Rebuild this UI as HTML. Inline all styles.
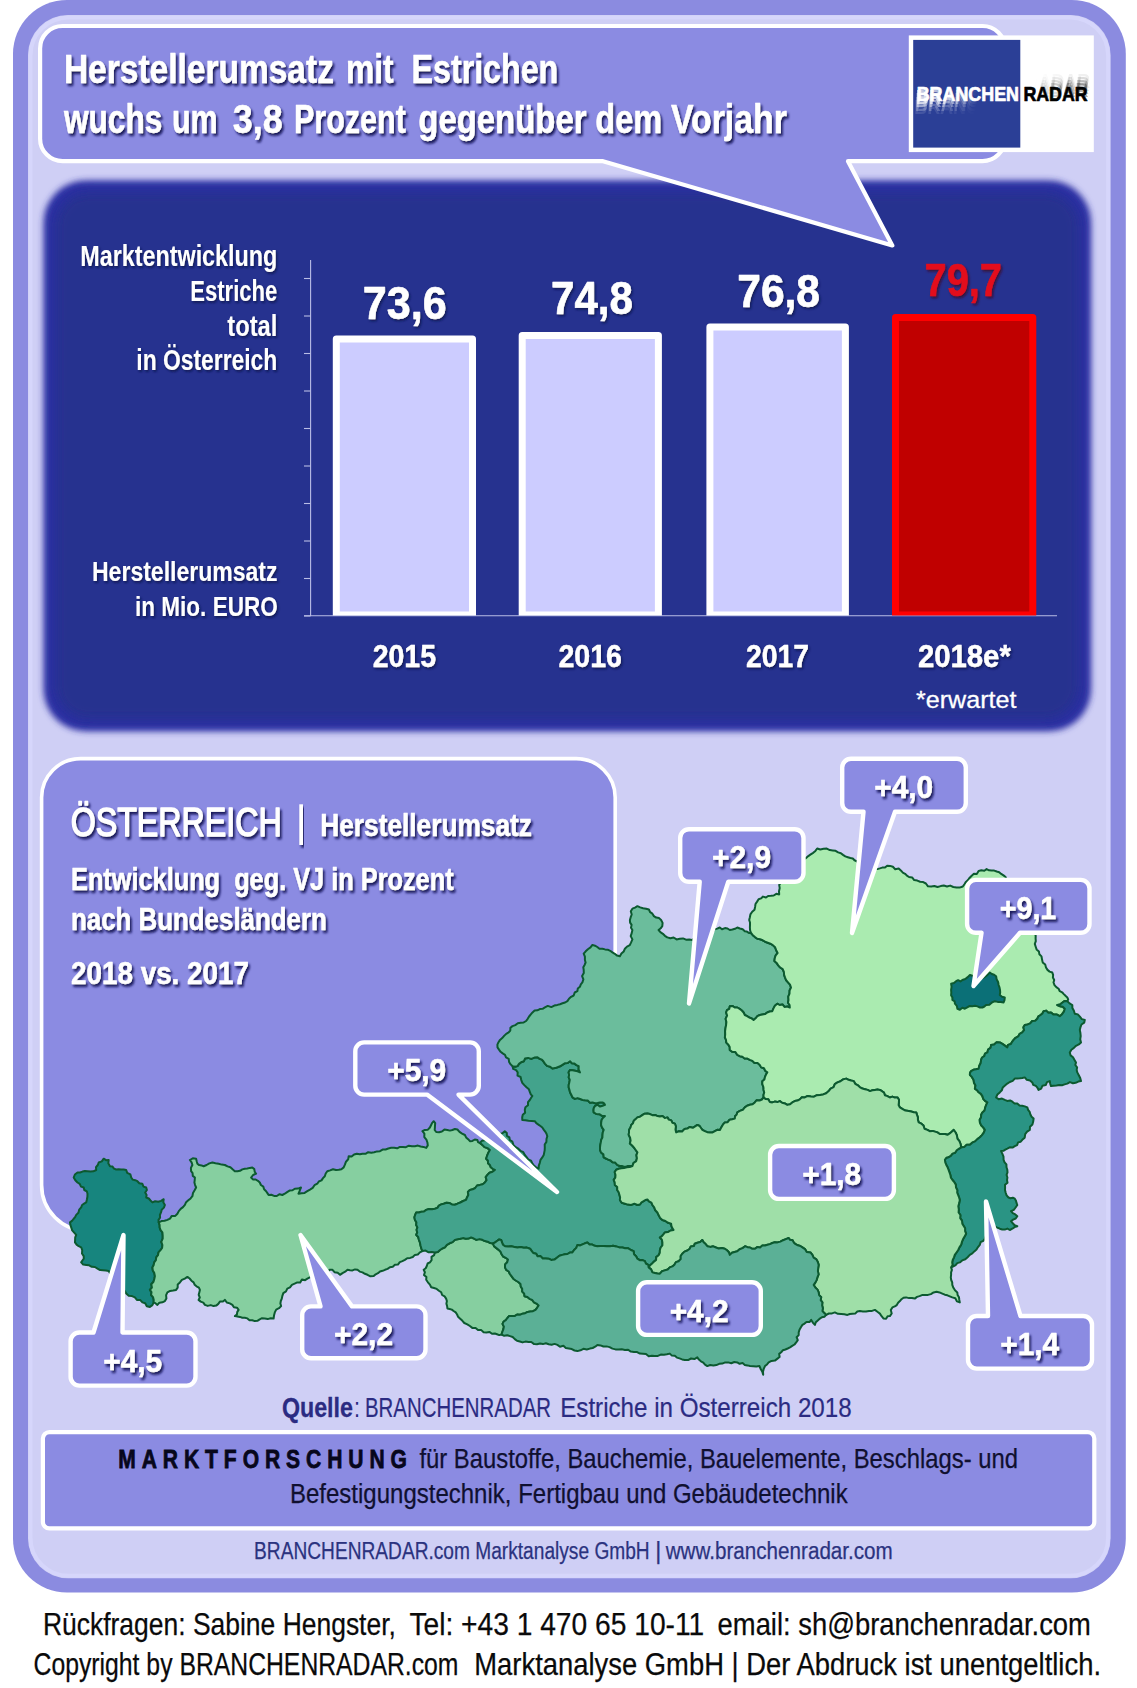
<!DOCTYPE html>
<html><head><meta charset="utf-8"><title>Estriche</title>
<style>
html,body{margin:0;padding:0;background:#fff;}
body{width:1137px;height:1688px;overflow:hidden;}
svg{display:block;font-family:"Liberation Sans", sans-serif;}
</style></head><body>
<svg width="1137" height="1688" viewBox="0 0 1137 1688">
<defs>
<filter id="blur" x="-5%" y="-5%" width="110%" height="110%"><feGaussianBlur stdDeviation="3.4"/></filter>
<filter id="blur2" x="-5%" y="-5%" width="110%" height="110%"><feGaussianBlur stdDeviation="6"/></filter>
<filter id="sh" x="-10%" y="-30%" width="120%" height="170%"><feDropShadow dx="1.8" dy="2.6" stdDeviation="0.9" flood-color="#10104e" flood-opacity="0.92"/></filter>
<filter id="sh2" x="-10%" y="-30%" width="120%" height="170%"><feDropShadow dx="1.3" dy="1.8" stdDeviation="0.8" flood-color="#0b1250" flood-opacity="0.9"/></filter>
<filter id="shr" x="-10%" y="-30%" width="120%" height="170%"><feDropShadow dx="1.5" dy="2" stdDeviation="1" flood-color="#3a0a30" flood-opacity="0.9"/></filter>
<linearGradient id="fadeW" x1="0" y1="0" x2="1" y2="0"><stop offset="0" stop-color="#fff" stop-opacity="1"/><stop offset="0.3" stop-color="#fff" stop-opacity="0.8"/><stop offset="0.6" stop-color="#fff" stop-opacity="0"/></linearGradient>
<linearGradient id="fadeK" x1="0" y1="0" x2="1" y2="0"><stop offset="0.15" stop-color="#000" stop-opacity="0"/><stop offset="0.6" stop-color="#000" stop-opacity="0.6"/><stop offset="1" stop-color="#000" stop-opacity="0.8"/></linearGradient>
<clipPath id="cb"><rect x="300" y="250" width="800" height="365.5"/></clipPath>
</defs>

<rect x="13" y="0" width="1112.8" height="1592.6" rx="54" fill="#8b8be0"/>

<rect x="28" y="15" width="1082.6" height="1563.3" rx="40" fill="#cfcff5"/>
<rect x="30.5" y="17.5" width="1077.6" height="1558.3" rx="38" fill="none" stroke="#d6d6fb" stroke-width="4"/>
<rect x="43.6" y="180.6" width="1047.4" height="550.6" rx="42" fill="#2a2fa3" filter="url(#blur)"/>
<rect x="55" y="192" width="1024.6" height="527.8" rx="34" fill="#25318f" filter="url(#blur2)"/>
<path d="M62.6,26 L982.5,26 A22.5,22.5 0 0 1 1005,48.5 L1005,138.7 A22.5,22.5 0 0 1 982.5,161.2 L848,161.2 L892.3,245.5 L603,161.2 L62.6,161.2 A22.5,22.5 0 0 1 40.1,138.7 L40.1,48.5 A22.5,22.5 0 0 1 62.6,26 Z" fill="#8b8be2" stroke="#fff" stroke-width="4.2" stroke-linejoin="round"/>
<g filter="url(#sh)">
<text x="63.9" y="83.4" font-size="40" font-weight="bold" fill="#fff" textLength="270" lengthAdjust="spacingAndGlyphs" stroke="#fff" stroke-width="0.5" stroke-linejoin="round"  xml:space="preserve">Herstellerumsatz</text>
<text x="346" y="83.4" font-size="40" font-weight="bold" fill="#fff" textLength="47.6" lengthAdjust="spacingAndGlyphs" stroke="#fff" stroke-width="0.5" stroke-linejoin="round"  xml:space="preserve">mit</text>
<text x="411.5" y="83.4" font-size="40" font-weight="bold" fill="#fff" textLength="146.8" lengthAdjust="spacingAndGlyphs" stroke="#fff" stroke-width="0.5" stroke-linejoin="round"  xml:space="preserve">Estrichen</text>
<text x="63.9" y="133.3" font-size="40" font-weight="bold" fill="#fff" textLength="98.5" lengthAdjust="spacingAndGlyphs" stroke="#fff" stroke-width="0.5" stroke-linejoin="round"  xml:space="preserve">wuchs</text>
<text x="171.9" y="133.3" font-size="40" font-weight="bold" fill="#fff" textLength="45.8" lengthAdjust="spacingAndGlyphs" stroke="#fff" stroke-width="0.5" stroke-linejoin="round"  xml:space="preserve">um</text>
<text x="232.8" y="133.3" font-size="40" font-weight="bold" fill="#fff" textLength="49.9" lengthAdjust="spacingAndGlyphs" stroke="#fff" stroke-width="0.5" stroke-linejoin="round"  xml:space="preserve">3,8</text>
<text x="294" y="133.3" font-size="40" font-weight="bold" fill="#fff" textLength="111.9" lengthAdjust="spacingAndGlyphs" stroke="#fff" stroke-width="0.5" stroke-linejoin="round"  xml:space="preserve">Prozent</text>
<text x="418.3" y="133.3" font-size="40" font-weight="bold" fill="#fff" textLength="168.2" lengthAdjust="spacingAndGlyphs" stroke="#fff" stroke-width="0.5" stroke-linejoin="round"  xml:space="preserve">gegenüber</text>
<text x="595.3" y="133.3" font-size="40" font-weight="bold" fill="#fff" textLength="66.8" lengthAdjust="spacingAndGlyphs" stroke="#fff" stroke-width="0.5" stroke-linejoin="round"  xml:space="preserve">dem</text>
<text x="670.9" y="133.3" font-size="40" font-weight="bold" fill="#fff" textLength="116.1" lengthAdjust="spacingAndGlyphs" stroke="#fff" stroke-width="0.5" stroke-linejoin="round"  xml:space="preserve">Vorjahr</text>
</g>
<rect x="908.8" y="35.4" width="185" height="116.7" fill="#fff"/>
<rect x="913.2" y="39.9" width="107.1" height="107.7" fill="#2b3f96"/>
<text x="916.1" y="104.2" font-size="20.5" font-weight="bold" fill="url(#fadeW)" textLength="102.3" lengthAdjust="spacingAndGlyphs" opacity="0.75" xml:space="preserve">BRANCHEN</text>
<text x="915.5" y="107.4" font-size="20.5" font-weight="bold" fill="url(#fadeW)" textLength="102.3" lengthAdjust="spacingAndGlyphs" opacity="0.5" xml:space="preserve">BRANCHEN</text>
<text x="914.9000000000001" y="110.6" font-size="20.5" font-weight="bold" fill="url(#fadeW)" textLength="102.3" lengthAdjust="spacingAndGlyphs" opacity="0.28" xml:space="preserve">BRANCHEN</text>
<text x="914.3000000000001" y="113.8" font-size="20.5" font-weight="bold" fill="url(#fadeW)" textLength="102.3" lengthAdjust="spacingAndGlyphs" opacity="0.12" xml:space="preserve">BRANCHEN</text>
<text x="1024.0" y="97.1" font-size="20.5" font-weight="bold" fill="url(#fadeK)" textLength="64.3" lengthAdjust="spacingAndGlyphs" opacity="0.42" xml:space="preserve">RADAR</text>
<text x="1024.6" y="93.89999999999999" font-size="20.5" font-weight="bold" fill="url(#fadeK)" textLength="64.3" lengthAdjust="spacingAndGlyphs" opacity="0.3" xml:space="preserve">RADAR</text>
<text x="1025.2" y="90.7" font-size="20.5" font-weight="bold" fill="url(#fadeK)" textLength="64.3" lengthAdjust="spacingAndGlyphs" opacity="0.18" xml:space="preserve">RADAR</text>
<text x="1025.8" y="87.5" font-size="20.5" font-weight="bold" fill="url(#fadeK)" textLength="64.3" lengthAdjust="spacingAndGlyphs" opacity="0.08" xml:space="preserve">RADAR</text>
<text x="916.7" y="101.2" font-size="20.5" font-weight="bold" fill="#fff" textLength="102.3" lengthAdjust="spacingAndGlyphs" stroke="#fff" stroke-width="0.7" stroke-linejoin="round"  xml:space="preserve">BRANCHEN</text>
<text x="1023.4" y="100.5" font-size="20.5" font-weight="bold" fill="#000" textLength="64.3" lengthAdjust="spacingAndGlyphs" stroke="#000" stroke-width="0.7" stroke-linejoin="round"  xml:space="preserve">RADAR</text>
<path d="M310.6,260 V615.7 M304,615.7 H1057" fill="none" stroke="#b9bde6" stroke-width="1.1"/>
<path d="M304,616.0 H310.6" stroke="#b9bde6" stroke-width="1.1"/>
<path d="M304,578.5 H310.6" stroke="#b9bde6" stroke-width="1.1"/>
<path d="M304,541.0 H310.6" stroke="#b9bde6" stroke-width="1.1"/>
<path d="M304,503.5 H310.6" stroke="#b9bde6" stroke-width="1.1"/>
<path d="M304,466.0 H310.6" stroke="#b9bde6" stroke-width="1.1"/>
<path d="M304,428.5 H310.6" stroke="#b9bde6" stroke-width="1.1"/>
<path d="M304,391.0 H310.6" stroke="#b9bde6" stroke-width="1.1"/>
<path d="M304,353.5 H310.6" stroke="#b9bde6" stroke-width="1.1"/>
<path d="M304,316.0 H310.6" stroke="#b9bde6" stroke-width="1.1"/>
<path d="M304,278.5 H310.6" stroke="#b9bde6" stroke-width="1.1"/>
<rect x="336.3" y="339.0" width="136.2" height="275.9" fill="#ccccff" stroke="#fff" stroke-width="7" stroke-linejoin="round" clip-path="url(#cb)"/>
<rect x="522.2" y="335.5" width="136.19999999999993" height="279.4" fill="#ccccff" stroke="#fff" stroke-width="7" stroke-linejoin="round" clip-path="url(#cb)"/>
<rect x="709.9" y="326.9" width="135.5" height="288.0" fill="#ccccff" stroke="#fff" stroke-width="7" stroke-linejoin="round" clip-path="url(#cb)"/>
<rect x="895.5" y="317.4" width="137.29999999999995" height="297.5" fill="#c00000" stroke="#ff0000" stroke-width="7" stroke-linejoin="round" clip-path="url(#cb)"/>
<text x="362.8" y="318.6" font-size="47" font-weight="bold" fill="#fff" textLength="83.8" lengthAdjust="spacingAndGlyphs" filter="url(#sh2)" stroke="#fff" stroke-width="0.6" stroke-linejoin="round"  xml:space="preserve">73,6</text>
<text x="551" y="314.4" font-size="47" font-weight="bold" fill="#fff" textLength="82" lengthAdjust="spacingAndGlyphs" filter="url(#sh2)" stroke="#fff" stroke-width="0.6" stroke-linejoin="round"  xml:space="preserve">74,8</text>
<text x="737.3" y="306.8" font-size="47" font-weight="bold" fill="#fff" textLength="82.7" lengthAdjust="spacingAndGlyphs" filter="url(#sh2)" stroke="#fff" stroke-width="0.6" stroke-linejoin="round"  xml:space="preserve">76,8</text>
<text x="924.5" y="296.3" font-size="47" font-weight="bold" fill="#e3101c" textLength="77.5" lengthAdjust="spacingAndGlyphs" filter="url(#shr)" stroke="#e3101c" stroke-width="0.6" stroke-linejoin="round"  xml:space="preserve">79,7</text>
<text x="372.7" y="667" font-size="31.6" font-weight="bold" fill="#fff" textLength="63.3" lengthAdjust="spacingAndGlyphs" filter="url(#sh2)" stroke="#fff" stroke-width="0.4" stroke-linejoin="round"  xml:space="preserve">2015</text>
<text x="558.5" y="667" font-size="31.6" font-weight="bold" fill="#fff" textLength="63.5" lengthAdjust="spacingAndGlyphs" filter="url(#sh2)" stroke="#fff" stroke-width="0.4" stroke-linejoin="round"  xml:space="preserve">2016</text>
<text x="746" y="667" font-size="31.6" font-weight="bold" fill="#fff" textLength="63" lengthAdjust="spacingAndGlyphs" filter="url(#sh2)" stroke="#fff" stroke-width="0.4" stroke-linejoin="round"  xml:space="preserve">2017</text>
<text x="917.9" y="666.8" font-size="31.6" font-weight="bold" fill="#fff" textLength="92.9" lengthAdjust="spacingAndGlyphs" filter="url(#sh2)" stroke="#fff" stroke-width="0.4" stroke-linejoin="round"  xml:space="preserve">2018e*</text>
<text x="916" y="707.6" font-size="24.5" font-weight="normal" fill="#fff" textLength="100.4" lengthAdjust="spacingAndGlyphs" stroke="#fff" stroke-width="0.3" stroke-linejoin="round"  xml:space="preserve">*erwartet</text>
<text x="277.3" y="265.7" font-size="29" font-weight="bold" fill="#fff" text-anchor="end" textLength="197" lengthAdjust="spacingAndGlyphs" filter="url(#sh2)"  xml:space="preserve">Marktentwicklung</text>
<text x="277.3" y="300.8" font-size="29" font-weight="bold" fill="#fff" text-anchor="end" textLength="87" lengthAdjust="spacingAndGlyphs" filter="url(#sh2)"  xml:space="preserve">Estriche</text>
<text x="277.3" y="335.8" font-size="29" font-weight="bold" fill="#fff" text-anchor="end" textLength="50" lengthAdjust="spacingAndGlyphs" filter="url(#sh2)"  xml:space="preserve">total</text>
<text x="277.3" y="370.3" font-size="29" font-weight="bold" fill="#fff" text-anchor="end" textLength="141" lengthAdjust="spacingAndGlyphs" filter="url(#sh2)"  xml:space="preserve">in Österreich</text>
<text x="277.5" y="580.6" font-size="28.5" font-weight="bold" fill="#fff" text-anchor="end" textLength="185.5" lengthAdjust="spacingAndGlyphs" filter="url(#sh2)"  xml:space="preserve">Herstellerumsatz</text>
<text x="277.7" y="615.5" font-size="28.5" font-weight="bold" fill="#fff" text-anchor="end" textLength="142.6" lengthAdjust="spacingAndGlyphs" filter="url(#sh2)"  xml:space="preserve">in Mio. EURO</text>
<path d="M80.6,758.6 H576.2 A39,39 0 0 1 615.2,797.6 V1191 A40,40 0 0 1 575.2,1231 H87.6 A46,46 0 0 1 41.6,1185 V797.6 A39,39 0 0 1 80.6,758.6 Z" fill="#8b8be2" stroke="#fff" stroke-width="3.6"/>
<text x="70.7" y="836.2" font-size="40" font-weight="normal" fill="#fff" textLength="211" lengthAdjust="spacingAndGlyphs" filter="url(#sh)" stroke="#fff" stroke-width="1.4" stroke-linejoin="round"  xml:space="preserve">ÖSTERREICH</text>
<rect x="299.3" y="804.3" width="3.7" height="40.7" fill="#fff" filter="url(#sh)"/>
<text x="320.2" y="835.7" font-size="31" font-weight="bold" fill="#fff" textLength="211.8" lengthAdjust="spacingAndGlyphs" filter="url(#sh)" stroke="#fff" stroke-width="0.5" stroke-linejoin="round"  xml:space="preserve">Herstellerumsatz</text>
<text x="71" y="890.3" font-size="30.5" font-weight="bold" fill="#fff" textLength="382.6" lengthAdjust="spacingAndGlyphs" filter="url(#sh)" stroke="#fff" stroke-width="0.5" stroke-linejoin="round"  xml:space="preserve">Entwicklung  geg. VJ in Prozent</text>
<text x="71" y="930" font-size="30.5" font-weight="bold" fill="#fff" textLength="255.8" lengthAdjust="spacingAndGlyphs" filter="url(#sh)" stroke="#fff" stroke-width="0.5" stroke-linejoin="round"  xml:space="preserve">nach Bundesländern</text>
<text x="71" y="983.6" font-size="30.5" font-weight="bold" fill="#fff" textLength="178" lengthAdjust="spacingAndGlyphs" filter="url(#sh)" stroke="#fff" stroke-width="0.5" stroke-linejoin="round"  xml:space="preserve">2018 vs. 2017</text>
<g stroke="#0c5a30" stroke-width="2" stroke-linejoin="round">
<polygon points="158.7,1222.4 159.6,1224.9 159.7,1227.7 160.6,1230.2 162.4,1232.4 162.7,1235.6 162.7,1238.7 161.3,1241.8 162.4,1245.0 162.1,1248.0 160.5,1250.2 158.5,1252.4 158.0,1255.2 156.2,1257.4 155.9,1260.1 154.2,1262.4 153.7,1265.0 152.4,1267.4 152.8,1270.4 154.3,1273.1 154.9,1276.1 154.3,1279.0 153.5,1281.8 151.3,1284.2 151.9,1287.5 149.9,1289.9 151.5,1292.1 151.1,1295.0 153.0,1297.1 153.7,1299.7 153.7,1302.4 152.4,1305.2 149.9,1306.9 146.8,1306.3 145.2,1303.3 142.4,1302.4 140.3,1300.1 136.9,1299.9 134.9,1297.4 132.0,1296.1 128.7,1295.8 126.2,1293.6 125.0,1291.1 122.3,1289.9 120.5,1287.9 120.2,1284.7 118.0,1283.0 115.7,1281.0 113.5,1278.8 111.9,1276.3 110.4,1273.6 108.7,1271.1 105.9,1270.6 103.0,1270.3 100.1,1270.1 97.5,1268.6 94.9,1267.0 91.8,1266.8 89.2,1265.3 86.2,1264.9 83.2,1264.6 81.2,1262.4 82.4,1260.5 83.8,1258.6 83.7,1256.1 82.0,1253.5 82.2,1250.2 81.2,1247.4 78.7,1246.2 76.6,1244.6 75.0,1242.4 75.1,1239.9 75.2,1237.3 76.2,1234.9 74.2,1232.6 72.2,1230.4 71.2,1227.4 70.4,1224.9 70.0,1222.4 72.0,1220.9 73.5,1219.0 75.1,1217.1 76.2,1214.9 78.4,1212.8 79.2,1209.7 81.2,1207.4 82.1,1205.0 84.1,1203.7 86.2,1202.4 86.9,1199.5 87.4,1196.7 87.5,1193.7 86.8,1191.3 84.3,1190.0 83.7,1187.5 81.0,1186.6 79.7,1183.9 77.5,1182.5 75.3,1180.2 73.7,1177.5 74.9,1174.5 77.5,1172.5 80.0,1172.5 82.5,1171.6 84.9,1171.1 87.5,1171.2 90.5,1171.6 93.4,1171.3 96.2,1170.0 96.0,1167.2 97.8,1165.0 98.7,1162.5 101.8,1161.4 103.7,1158.7 106.0,1160.2 108.7,1160.0 108.3,1163.3 110.0,1166.2 112.5,1166.6 114.0,1168.6 116.2,1169.5 118.7,1169.3 121.2,1169.4 123.7,1169.6 126.2,1170.0 127.2,1172.9 130.4,1174.4 131.2,1177.5 132.7,1179.6 135.2,1180.2 137.4,1181.2 139.3,1183.2 142.3,1183.7 143.5,1186.6 146.2,1187.5 146.9,1190.0 145.2,1192.5 146.6,1195.0 146.2,1197.5 148.8,1198.5 150.5,1200.5 152.4,1202.4 155.1,1201.3 158.3,1201.8 161.1,1200.9 163.7,1199.2 163.3,1202.3 164.9,1205.0 163.9,1207.6 161.7,1209.7 161.0,1212.4 159.9,1215.0 160.1,1217.6 158.5,1219.8 158.7,1222.4" fill="#17857e"/>
<polygon points="158.7,1222.4 161.5,1221.1 164.5,1220.8 167.4,1219.9 170.0,1218.6 171.8,1215.9 175.3,1215.9 177.4,1213.7 178.8,1211.1 180.7,1208.9 183.0,1207.1 184.9,1204.9 186.1,1202.2 188.3,1200.3 190.6,1198.4 192.4,1196.2 193.0,1193.0 194.6,1190.3 196.1,1187.5 195.1,1185.1 194.4,1182.6 194.7,1180.1 194.9,1177.5 192.8,1175.9 192.6,1173.2 191.1,1171.2 190.9,1167.9 192.4,1165.0 191.6,1162.3 189.9,1160.0 192.8,1158.3 196.1,1158.7 196.7,1161.2 197.4,1163.7 199.2,1165.1 201.5,1165.4 203.6,1166.2 206.6,1165.0 209.3,1163.4 212.4,1162.5 215.5,1163.2 218.6,1163.8 221.7,1164.6 224.9,1165.0 227.5,1166.4 230.4,1167.2 232.6,1169.3 234.8,1171.2 237.5,1171.3 240.0,1170.8 242.3,1169.4 244.8,1168.7 247.3,1168.5 249.8,1167.9 252.3,1167.5 254.3,1169.1 254.7,1171.7 256.1,1173.7 253.1,1175.0 251.1,1177.5 252.9,1179.4 255.7,1179.5 257.9,1180.8 259.8,1182.5 260.9,1185.0 263.3,1186.6 264.1,1189.3 266.1,1191.2 267.4,1193.1 268.6,1195.0 271.3,1194.8 274.1,1195.9 276.8,1196.0 279.6,1194.2 282.3,1195.0 284.8,1193.7 287.1,1192.1 289.5,1190.6 292.5,1190.3 294.8,1188.7 298.0,1188.6 301.0,1187.5 300.1,1189.6 299.4,1191.7 298.5,1193.7 301.5,1193.2 304.6,1192.9 307.3,1191.2 310.0,1189.6 312.7,1187.9 314.5,1185.2 317.3,1183.7 318.8,1181.5 321.5,1180.4 323.0,1178.1 324.8,1176.2 325.7,1173.5 327.3,1171.2 330.1,1170.4 333.0,1169.3 336.0,1170.0 338.8,1169.7 341.4,1169.2 343.7,1167.4 344.9,1164.6 346.0,1161.7 348.2,1159.3 348.7,1156.2 351.6,1156.6 354.1,1154.5 356.8,1153.7 359.8,1154.3 362.5,1153.7 365.5,1153.8 368.2,1152.2 371.3,1152.7 374.2,1152.3 377.1,1151.4 380.0,1151.2 382.6,1149.6 385.6,1149.5 388.3,1148.5 391.2,1147.8 394.1,1147.7 397.2,1148.3 399.9,1146.9 402.9,1147.0 405.9,1147.2 408.9,1145.7 411.9,1146.2 414.9,1146.2 417.9,1145.6 420.6,1146.5 423.5,1146.9 426.2,1147.9 427.8,1145.4 427.4,1142.5 426.4,1139.6 424.3,1137.1 424.4,1133.7 422.4,1131.2 424.9,1129.9 427.9,1129.7 429.9,1127.5 431.0,1125.3 432.0,1123.1 433.7,1121.2 435.2,1123.1 435.0,1125.3 434.9,1127.5 434.7,1130.0 436.2,1132.0 439.1,1132.2 441.9,1131.5 444.4,1129.6 447.4,1130.0 449.9,1130.6 452.4,1130.0 454.9,1129.0 457.4,1129.5 459.5,1131.9 462.1,1133.6 464.9,1135.0 466.1,1137.4 468.1,1139.2 469.9,1141.2 472.4,1140.9 474.8,1139.5 477.4,1140.0 478.0,1142.1 479.9,1143.0 479.9,1143.0 482.3,1144.9 484.5,1147.1 487.5,1148.1 489.9,1150.0 488.3,1152.8 487.1,1155.7 486.1,1158.7 487.9,1160.4 488.0,1163.2 489.9,1164.9 490.8,1167.3 492.7,1168.8 494.9,1169.9 492.5,1171.7 489.5,1172.7 487.4,1174.9 485.7,1177.1 486.6,1180.2 484.9,1182.4 482.7,1184.2 479.9,1184.9 477.1,1185.5 475.2,1188.0 472.7,1189.3 469.9,1189.9 467.9,1192.0 468.3,1195.0 467.0,1197.4 466.1,1199.9 463.1,1201.0 460.3,1202.5 457.4,1203.7 454.7,1204.7 451.9,1204.4 449.2,1202.9 446.4,1202.7 443.7,1203.7 441.2,1204.4 438.9,1205.6 437.4,1207.9 434.9,1208.7 432.0,1209.2 429.0,1209.0 426.2,1209.9 424.0,1211.5 421.3,1211.7 418.9,1212.5 416.2,1212.4 415.2,1214.8 414.4,1217.2 414.9,1219.9 416.4,1222.2 416.2,1225.0 417.4,1227.4 416.6,1229.8 417.2,1232.5 416.2,1234.9 418.2,1237.0 418.9,1239.8 419.9,1242.4 420.5,1245.4 421.3,1248.3 422.4,1251.1 422.4,1251.1 419.9,1252.4 417.8,1254.5 414.9,1254.9 412.8,1257.0 410.2,1257.9 407.2,1258.2 404.9,1259.9 402.4,1261.1 399.8,1262.1 397.9,1264.6 394.9,1264.8 392.8,1266.7 389.9,1267.3 387.6,1268.9 385.0,1269.8 382.6,1270.8 380.0,1271.5 378.0,1273.2 375.7,1274.3 373.7,1276.1 370.4,1276.3 367.5,1274.8 364.9,1273.8 362.5,1272.4 359.7,1271.6 357.5,1269.8 355.0,1269.4 352.5,1270.4 350.0,1270.2 347.5,1269.8 345.2,1271.7 342.5,1273.1 340.0,1274.8 337.7,1272.8 334.5,1272.2 332.5,1269.8 329.7,1269.7 327.7,1272.0 325.0,1272.0 322.2,1272.3 319.6,1273.5 317.0,1274.5 315.0,1276.3 312.0,1275.9 309.8,1277.4 307.4,1278.7 305.1,1280.2 301.9,1279.4 300.2,1282.4 297.3,1282.4 294.6,1283.7 291.9,1284.9 290.0,1287.4 287.3,1288.6 286.0,1291.4 283.3,1293.2 282.3,1296.1 281.8,1298.6 280.8,1301.0 280.4,1303.5 281.1,1306.1 279.0,1308.2 276.2,1309.6 274.8,1312.4 274.0,1315.5 273.6,1318.6 270.7,1318.3 267.7,1319.1 264.8,1318.6 262.0,1318.2 259.7,1319.3 257.4,1320.8 254.8,1321.1 252.3,1320.3 249.5,1320.2 247.4,1318.4 244.8,1317.8 242.3,1317.7 239.9,1316.9 237.4,1316.4 234.9,1316.1 236.9,1314.5 237.3,1311.9 238.6,1309.9 237.0,1307.7 233.9,1307.3 232.4,1304.9 229.8,1303.4 226.8,1302.5 224.9,1299.9 222.9,1301.6 219.9,1301.6 218.3,1303.9 216.2,1305.6 213.6,1306.1 210.8,1305.1 207.7,1305.9 204.9,1304.9 203.3,1302.6 200.7,1301.6 198.6,1299.9 199.8,1297.5 198.7,1294.8 199.3,1292.4 199.9,1289.9 198.9,1287.6 196.5,1286.3 194.7,1284.7 193.6,1282.4 191.4,1280.7 189.6,1278.5 187.4,1276.9 184.8,1278.6 181.9,1279.9 179.9,1282.4 177.7,1284.4 177.7,1287.6 176.1,1289.9 173.1,1290.5 170.1,1290.9 167.4,1292.4 166.1,1295.2 166.4,1298.4 164.9,1301.1 162.4,1302.3 159.4,1302.7 157.4,1304.9 155.7,1303.4 153.7,1302.4 153.7,1302.4 153.7,1299.7 153.0,1297.1 151.1,1295.0 151.5,1292.1 149.9,1289.9 151.9,1287.5 151.3,1284.2 153.5,1281.8 154.3,1279.0 154.9,1276.1 154.3,1273.1 152.8,1270.4 152.4,1267.4 153.7,1265.0 154.2,1262.4 155.9,1260.1 156.2,1257.4 158.0,1255.2 158.5,1252.4 160.5,1250.2 162.1,1248.0 162.4,1245.0 161.3,1241.8 162.7,1238.7 162.7,1235.6 162.4,1232.4 160.6,1230.2 159.7,1227.7 159.6,1224.9 158.7,1222.4" fill="#86cfa0"/>
<polygon points="434.9,1252.4 437.8,1251.9 440.0,1250.0 442.3,1248.5 444.9,1247.4 446.9,1244.9 449.6,1243.3 452.6,1242.1 454.9,1239.9 457.6,1239.2 460.3,1238.8 462.9,1238.1 465.8,1238.7 468.5,1238.6 471.1,1237.4 473.8,1238.5 476.3,1239.9 479.5,1239.1 482.3,1239.8 484.9,1241.1 487.7,1241.7 490.2,1243.1 493.0,1243.5 493.0,1243.5 494.0,1246.2 496.1,1247.9 498.3,1249.6 500.4,1251.4 501.5,1254.0 503.1,1256.5 505.7,1257.8 508.0,1259.5 507.2,1262.2 505.1,1264.4 505.0,1267.4 506.2,1269.9 508.7,1271.5 509.9,1274.0 511.5,1276.2 513.3,1278.7 515.7,1280.5 518.3,1282.0 520.5,1284.0 520.8,1286.6 522.2,1288.8 522.2,1291.5 524.2,1293.6 524.5,1296.2 527.4,1297.0 529.5,1298.8 532.1,1299.9 534.0,1302.3 536.5,1303.6 538.6,1305.5 537.1,1307.8 535.5,1309.9 533.0,1311.2 530.3,1311.4 527.6,1311.9 525.2,1313.2 522.5,1313.7 519.9,1314.8 517.1,1314.5 514.6,1316.1 511.8,1316.0 509.0,1316.1 507.4,1318.0 505.8,1320.1 503.7,1321.5 502.5,1323.9 503.9,1326.6 503.4,1329.1 502.5,1331.5 501.5,1334.5 499.2,1335.1 497.0,1334.2 494.9,1333.5 492.0,1333.7 489.4,1331.9 486.4,1332.4 483.6,1332.3 481.3,1330.1 478.0,1330.0 475.6,1328.0 472.3,1327.9 469.9,1326.0 467.3,1324.3 464.3,1323.0 462.2,1320.6 459.9,1318.5 458.1,1316.8 457.1,1314.5 455.7,1312.4 453.6,1311.0 451.8,1309.6 449.6,1309.0 447.4,1308.5 447.1,1306.0 446.4,1303.6 446.9,1301.0 446.1,1298.6 444.6,1296.4 442.1,1295.0 441.2,1292.3 438.9,1290.7 436.7,1288.9 434.0,1288.0 431.2,1287.3 429.9,1284.6 427.9,1282.3 426.2,1279.8 426.4,1277.1 424.0,1275.0 424.9,1272.2 423.7,1269.8 425.7,1268.3 426.8,1266.0 427.6,1263.5 429.9,1262.3 431.6,1260.1 431.5,1256.9 434.1,1255.1 434.9,1252.4" fill="#86cfa0"/>
<polygon points="512.5,1066.1 513.2,1068.9 516.1,1070.2 517.7,1072.4 517.5,1075.7 520.6,1077.0 521.2,1079.8 522.3,1082.8 524.3,1085.1 526.5,1087.3 528.9,1089.3 530.0,1092.3 530.8,1094.4 532.3,1096.0 531.0,1098.0 529.8,1100.0 528.0,1102.2 528.0,1105.3 525.4,1107.2 524.8,1110.0 525.1,1112.7 522.8,1114.8 522.2,1117.3 522.3,1120.0 525.4,1120.3 528.5,1120.8 531.7,1120.9 534.8,1121.2 536.3,1123.2 538.4,1124.6 540.4,1126.0 542.3,1127.5 543.7,1129.6 545.2,1131.6 546.5,1133.8 547.3,1136.2 546.5,1139.0 546.4,1141.9 544.7,1144.5 544.8,1147.5 544.7,1150.1 544.2,1152.6 543.7,1155.1 542.3,1157.4 540.5,1159.9 539.8,1162.8 538.8,1165.6 538.6,1168.7 536.1,1167.3 533.9,1165.5 532.3,1163.2 531.0,1160.6 528.2,1159.4 526.6,1157.1 524.8,1155.0 523.3,1152.2 520.5,1150.8 518.3,1148.7 515.6,1147.1 513.4,1144.9 512.4,1141.7 509.8,1140.0 509.4,1137.3 506.9,1135.8 506.8,1133.0 504.8,1131.2 502.7,1133.1 500.2,1134.0 497.7,1134.9 495.1,1135.7 492.4,1136.2 490.3,1138.2 487.9,1139.9 484.9,1140.2 481.9,1140.8 479.9,1143.0 479.9,1143.0 482.3,1144.9 484.5,1147.1 487.5,1148.1 489.9,1150.0 488.3,1152.8 487.1,1155.7 486.1,1158.7 487.9,1160.4 488.0,1163.2 489.9,1164.9 490.8,1167.3 492.7,1168.8 494.9,1169.9 492.5,1171.7 489.5,1172.7 487.4,1174.9 485.7,1177.1 486.6,1180.2 484.9,1182.4 482.7,1184.2 479.9,1184.9 477.1,1185.5 475.2,1188.0 472.7,1189.3 469.9,1189.9 467.9,1192.0 468.3,1195.0 467.0,1197.4 466.1,1199.9 463.1,1201.0 460.3,1202.5 457.4,1203.7 454.7,1204.7 451.9,1204.4 449.2,1202.9 446.4,1202.7 443.7,1203.7 441.2,1204.4 438.9,1205.6 437.4,1207.9 434.9,1208.7 432.0,1209.2 429.0,1209.0 426.2,1209.9 424.0,1211.5 421.3,1211.7 418.9,1212.5 416.2,1212.4 415.2,1214.8 414.4,1217.2 414.9,1219.9 416.4,1222.2 416.2,1225.0 417.4,1227.4 416.6,1229.8 417.2,1232.5 416.2,1234.9 418.2,1237.0 418.9,1239.8 419.9,1242.4 420.5,1245.4 421.3,1248.3 422.4,1251.1 425.6,1250.6 428.6,1252.3 431.8,1252.0 434.9,1252.4 437.8,1251.9 440.0,1250.0 442.3,1248.5 444.9,1247.4 446.9,1244.9 449.6,1243.3 452.6,1242.1 454.9,1239.9 457.6,1239.2 460.3,1238.8 462.9,1238.1 465.8,1238.7 468.5,1238.6 471.1,1237.4 473.8,1238.5 476.3,1239.9 479.5,1239.1 482.3,1239.8 484.9,1241.1 487.7,1241.7 490.2,1243.1 493.0,1243.5 493.0,1243.5 495.1,1242.4 497.0,1241.0 498.9,1239.6 501.2,1240.0 502.0,1242.4 502.9,1244.7 505.0,1246.2 508.1,1246.5 511.3,1246.3 514.4,1246.9 517.5,1247.5 520.7,1247.1 523.8,1247.8 526.9,1247.6 530.0,1248.7 531.6,1250.9 533.2,1253.0 536.2,1253.7 537.5,1256.2 540.5,1256.1 542.8,1258.5 545.7,1258.6 548.6,1258.7 551.2,1259.9 554.4,1259.6 556.9,1257.7 559.4,1255.7 562.4,1254.9 564.9,1254.3 567.5,1254.0 569.8,1252.6 572.4,1252.4 574.1,1250.0 576.3,1247.9 577.4,1245.0 580.2,1245.4 582.5,1244.3 584.9,1243.3 587.4,1242.5 589.5,1244.4 592.3,1244.6 594.7,1245.8 597.4,1246.2 600.5,1246.1 603.6,1246.1 606.8,1246.3 609.9,1246.2 613.1,1245.8 616.2,1246.4 619.3,1247.4 622.4,1247.5 625.2,1248.3 628.3,1248.3 630.9,1250.0 633.6,1251.2 634.0,1254.2 636.1,1256.2 637.4,1258.7 639.7,1260.2 642.5,1260.1 644.9,1261.2 645.8,1263.5 648.3,1264.8 648.6,1267.4 648.6,1267.4 650.1,1265.2 652.1,1263.4 654.0,1261.6 656.1,1259.9 656.2,1257.1 658.6,1255.2 659.8,1252.8 659.9,1250.0 660.7,1247.5 662.4,1245.3 662.4,1242.5 661.9,1239.6 659.9,1237.5 661.9,1236.2 663.4,1234.4 664.8,1232.5 667.9,1232.1 670.6,1230.5 673.6,1230.0 672.3,1228.1 671.4,1226.0 671.1,1223.7 668.1,1222.8 665.4,1221.0 662.4,1220.0 660.1,1217.9 658.7,1215.3 657.4,1212.5 655.3,1210.3 654.2,1207.4 652.4,1205.0 651.4,1202.6 649.0,1201.4 647.4,1199.5 645.4,1200.0 643.6,1201.2 641.5,1202.3 639.9,1204.5 637.4,1205.0 634.4,1203.7 631.1,1204.9 628.0,1204.6 624.9,1203.7 621.7,1202.7 619.9,1200.0 620.1,1197.3 619.4,1194.8 618.7,1192.3 617.2,1190.0 617.2,1187.1 614.9,1185.1 614.7,1182.3 613.7,1179.8 615.3,1177.6 615.5,1174.9 614.7,1172.1 616.2,1169.8 618.7,1168.8 621.3,1168.3 624.0,1168.0 626.8,1167.2 629.7,1167.1 632.4,1166.1 632.4,1166.1 629.9,1166.1 627.4,1166.1 624.9,1166.9 622.4,1166.1 619.6,1166.0 617.2,1164.8 615.2,1162.6 612.5,1162.3 610.6,1160.5 608.2,1159.6 605.9,1158.5 603.7,1157.3 603.4,1154.4 601.0,1152.5 600.0,1149.9 600.0,1147.4 600.3,1144.9 600.8,1142.4 601.2,1139.9 602.4,1137.5 602.5,1134.9 602.8,1132.3 603.7,1129.9 602.1,1127.7 601.1,1125.2 601.2,1122.4 601.7,1119.8 603.1,1117.8 605.0,1116.1 602.0,1115.8 599.4,1114.2 596.3,1114.0 593.7,1112.4 593.5,1110.2 593.8,1108.1 595.0,1106.1 597.4,1104.7 600.1,1106.6 602.6,1105.8 605.0,1104.9 604.1,1103.3 602.5,1102.4 600.0,1102.5 597.5,1103.0 595.0,1103.2 592.5,1102.4 589.8,1102.7 587.7,1100.4 585.1,1100.3 582.5,1099.9 580.1,1099.0 577.6,1098.1 574.8,1098.9 572.5,1097.4 571.4,1095.0 570.1,1092.6 569.5,1090.0 568.7,1087.4 568.7,1084.9 569.3,1082.4 569.8,1079.9 568.7,1077.4 569.1,1074.9 568.6,1072.2 570.0,1069.9 572.6,1070.2 575.1,1070.7 577.6,1071.3 580.0,1072.4 578.6,1069.5 578.7,1066.2 576.4,1065.1 574.4,1063.6 571.7,1063.2 570.0,1061.2 567.7,1063.0 564.8,1063.3 562.4,1064.8 560.1,1066.3 557.6,1067.2 555.1,1068.1 552.4,1068.6 550.1,1066.7 547.0,1065.9 544.9,1063.6 543.5,1061.5 541.9,1059.6 539.4,1058.8 537.5,1057.3 534.4,1057.6 531.3,1058.9 528.1,1057.9 525.0,1058.6 523.9,1061.2 521.1,1062.2 519.0,1063.9 517.5,1066.1 515.0,1066.8 512.5,1066.1" fill="#43a38c"/>
<polygon points="512.5,1066.1 510.5,1064.2 509.1,1061.9 508.7,1058.8 506.0,1057.4 505.0,1054.8 502.7,1053.4 500.6,1051.8 499.0,1049.6 497.5,1047.4 497.4,1044.6 498.5,1042.2 500.0,1039.9 502.2,1038.1 504.1,1035.9 506.2,1033.9 508.7,1032.4 510.3,1030.5 510.4,1027.7 512.5,1026.1 515.3,1025.1 517.8,1023.3 520.7,1022.7 523.7,1022.4 526.1,1021.0 527.7,1018.8 529.1,1016.5 530.8,1014.4 532.5,1012.4 534.6,1010.5 537.4,1010.3 539.8,1009.1 542.6,1008.8 544.9,1007.4 547.8,1005.9 551.3,1007.1 554.3,1005.6 557.4,1004.9 560.0,1004.2 562.5,1003.3 565.1,1002.5 567.4,1001.1 569.0,998.7 571.1,996.8 573.7,995.5 574.7,992.5 577.4,991.2 577.8,988.5 579.9,986.8 580.8,984.4 582.4,982.4 583.4,979.3 582.1,976.1 583.8,973.1 583.7,969.9 583.3,967.3 584.6,964.9 585.6,962.5 584.9,959.9 584.9,956.7 583.7,953.7 585.7,951.3 587.9,949.2 590.5,947.4 592.4,944.9 595.0,945.7 597.3,947.0 599.5,948.8 602.4,948.7 605.0,949.4 607.7,949.7 610.2,950.8 612.4,952.4 614.8,953.8 617.1,955.6 619.9,956.2 621.4,953.6 623.7,951.5 624.9,948.7 627.0,946.6 629.8,945.2 631.1,942.4 632.4,939.4 630.7,936.1 631.7,933.1 632.4,930.0 631.0,927.7 631.6,924.9 630.1,922.6 629.9,920.0 630.7,917.2 631.7,914.5 630.8,911.3 632.4,908.7 635.0,907.6 637.4,906.2 640.2,907.4 643.1,908.3 646.1,908.7 648.9,909.5 650.2,912.2 652.4,913.7 653.9,916.1 656.2,917.6 659.1,918.1 661.1,920.0 662.6,922.9 662.3,926.2 660.7,928.3 658.6,930.0 660.4,932.2 662.9,933.8 664.9,935.8 667.3,937.4 670.4,938.3 673.6,937.5 676.6,939.4 679.8,938.7 683.0,938.4 686.0,939.7 689.2,939.6 692.3,939.9 694.5,938.0 697.5,938.3 700.0,937.2 702.2,935.2 705.0,935.0 707.8,934.5 709.5,931.7 712.8,932.0 714.5,929.3 717.2,928.6 719.8,927.5 722.0,929.2 725.0,928.1 727.5,928.5 729.8,930.0 732.4,929.5 735.0,928.8 737.3,927.5 739.9,928.5 742.7,929.3 744.8,931.2 746.9,931.6 748.8,932.9 751.0,933.0 751.0,933.0 752.8,935.2 755.0,937.1 757.3,938.7 760.1,939.3 762.7,940.3 765.1,941.7 767.7,942.7 770.4,943.7 772.8,945.1 775.1,947.3 776.2,950.2 777.6,953.0 775.7,955.3 774.8,958.0 774.4,960.9 776.6,962.9 778.2,965.4 780.2,967.5 782.7,969.2 783.9,972.0 784.1,974.8 785.0,977.4 786.0,980.0 788.0,982.3 790.0,984.6 791.0,987.5 789.6,990.5 789.5,993.7 788.3,996.7 788.5,1000.0 788.0,1002.7 789.6,1005.0 789.8,1007.5 787.4,1006.5 784.5,1006.9 782.5,1004.4 779.6,1005.0 777.3,1003.7 774.9,1005.7 773.5,1008.4 772.3,1011.2 769.7,1011.5 767.2,1012.5 765.0,1014.1 762.4,1014.5 759.8,1015.0 757.4,1016.2 755.6,1018.3 753.6,1020.0 751.6,1018.4 749.2,1017.5 747.1,1016.1 744.8,1015.0 743.6,1012.5 741.8,1010.5 739.7,1008.9 737.3,1007.5 734.7,1007.5 732.4,1005.9 729.8,1006.2 729.3,1008.8 727.0,1010.2 726.1,1012.5 727.1,1015.6 725.6,1018.8 726.4,1021.9 726.1,1025.0 725.5,1028.1 725.1,1031.2 725.2,1034.3 724.9,1037.4 726.0,1039.9 726.3,1042.6 728.4,1044.7 729.7,1047.1 729.8,1049.9 732.1,1051.8 735.4,1052.1 737.2,1054.8 739.8,1056.2 742.4,1056.8 744.6,1058.5 747.4,1058.6 749.8,1059.9 752.4,1060.9 754.5,1063.0 757.6,1063.1 759.8,1064.9 761.1,1067.4 764.0,1068.2 765.2,1070.7 767.3,1072.4 766.0,1074.6 765.0,1076.9 764.4,1079.5 762.3,1081.2 762.3,1084.2 763.4,1087.0 763.6,1089.9 764.2,1092.4 763.5,1094.9 763.6,1097.4 763.6,1097.4 761.9,1099.5 759.6,1100.5 756.5,1100.3 754.8,1102.4 752.6,1104.3 749.8,1104.8 747.1,1105.7 744.8,1107.4 742.8,1109.8 739.9,1110.9 737.3,1112.4 736.7,1114.6 735.0,1116.3 734.8,1118.6 732.2,1119.2 729.6,1119.7 727.7,1122.2 724.9,1122.4 722.9,1124.7 721.4,1127.3 719.9,1129.9 717.2,1129.8 714.9,1131.1 712.6,1132.4 709.9,1132.4 707.2,1132.2 704.8,1131.2 702.4,1129.9 701.0,1128.0 699.6,1126.0 697.4,1124.9 695.1,1126.4 692.8,1127.8 689.6,1127.0 687.4,1128.6 684.4,1129.1 682.1,1131.5 678.9,1131.3 676.1,1132.4 675.5,1129.5 675.9,1126.5 674.9,1123.6 672.4,1122.8 671.3,1120.4 668.8,1119.6 667.4,1117.4 664.8,1118.1 662.5,1116.1 659.9,1116.4 657.4,1116.1 655.1,1114.9 652.3,1115.2 649.9,1114.1 647.4,1113.6 644.6,1113.7 642.3,1115.2 640.0,1116.7 637.4,1117.4 635.7,1119.1 633.8,1120.7 633.0,1123.3 631.2,1124.9 630.5,1127.4 629.1,1129.7 629.0,1132.3 628.7,1134.9 630.1,1137.7 630.6,1140.6 629.9,1143.6 632.1,1145.5 634.0,1147.7 635.7,1150.0 637.4,1152.4 636.4,1155.2 636.9,1158.2 636.2,1161.1 633.5,1163.0 632.4,1166.1 632.4,1166.1 629.9,1166.1 627.4,1166.1 624.9,1166.9 622.4,1166.1 619.6,1166.0 617.2,1164.8 615.2,1162.6 612.5,1162.3 610.6,1160.5 608.2,1159.6 605.9,1158.5 603.7,1157.3 603.4,1154.4 601.0,1152.5 600.0,1149.9 600.0,1147.4 600.3,1144.9 600.8,1142.4 601.2,1139.9 602.4,1137.5 602.5,1134.9 602.8,1132.3 603.7,1129.9 602.1,1127.7 601.1,1125.2 601.2,1122.4 601.7,1119.8 603.1,1117.8 605.0,1116.1 602.0,1115.8 599.4,1114.2 596.3,1114.0 593.7,1112.4 593.5,1110.2 593.8,1108.1 595.0,1106.1 597.4,1104.7 600.1,1106.6 602.6,1105.8 605.0,1104.9 604.1,1103.3 602.5,1102.4 600.0,1102.5 597.5,1103.0 595.0,1103.2 592.5,1102.4 589.8,1102.7 587.7,1100.4 585.1,1100.3 582.5,1099.9 580.1,1099.0 577.6,1098.1 574.8,1098.9 572.5,1097.4 571.4,1095.0 570.1,1092.6 569.5,1090.0 568.7,1087.4 568.7,1084.9 569.3,1082.4 569.8,1079.9 568.7,1077.4 569.1,1074.9 568.6,1072.2 570.0,1069.9 572.6,1070.2 575.1,1070.7 577.6,1071.3 580.0,1072.4 578.6,1069.5 578.7,1066.2 576.4,1065.1 574.4,1063.6 571.7,1063.2 570.0,1061.2 567.7,1063.0 564.8,1063.3 562.4,1064.8 560.1,1066.3 557.6,1067.2 555.1,1068.1 552.4,1068.6 550.1,1066.7 547.0,1065.9 544.9,1063.6 543.5,1061.5 541.9,1059.6 539.4,1058.8 537.5,1057.3 534.4,1057.6 531.3,1058.9 528.1,1057.9 525.0,1058.6 523.9,1061.2 521.1,1062.2 519.0,1063.9 517.5,1066.1 515.0,1066.8 512.5,1066.1" fill="#6bbd9c"/>
<polygon points="751.0,933.0 750.1,930.4 749.9,927.7 750.0,925.0 750.0,922.5 749.2,920.0 749.8,917.5 750.4,914.4 752.2,911.8 754.5,909.8 755.1,906.9 755.5,904.0 757.1,901.6 758.6,899.2 761.0,898.4 763.0,896.6 766.0,897.5 768.1,896.0 770.9,895.8 773.7,895.5 776.3,893.8 779.2,894.4 779.0,891.2 779.7,888.1 779.2,884.9 781.0,882.5 783.1,880.4 785.4,878.7 788.4,877.6 790.0,875.0 791.5,872.3 793.3,869.9 796.3,868.5 798.0,866.0 800.3,864.3 802.3,862.3 803.4,859.3 806.1,858.0 808.3,856.1 810.7,854.4 813.2,852.8 815.4,850.9 817.2,848.5 820.3,849.5 823.6,848.7 826.8,848.6 829.8,850.1 832.7,850.4 835.6,850.8 838.1,852.4 840.9,853.2 843.0,854.9 845.3,856.4 847.8,857.2 850.4,858.0 852.8,858.5 854.5,860.3 856.7,861.2 858.9,863.2 862.1,863.1 864.4,864.9 867.0,866.0 869.7,866.5 872.0,867.9 874.8,868.1 877.3,869.1 879.8,868.4 882.3,867.6 885.0,867.6 887.2,865.7 890.0,865.9 892.9,866.8 895.2,869.2 898.7,868.5 901.1,870.7 902.8,872.6 905.1,873.8 906.9,875.6 909.0,877.0 912.1,877.4 914.2,880.1 917.3,880.6 920.1,881.7 923.2,882.1 925.9,883.5 928.0,886.3 931.2,886.5 934.4,886.0 937.5,887.0 940.7,886.1 943.8,885.5 947.0,886.5 950.2,885.6 953.3,887.0 956.5,887.4 959.6,887.6 962.8,886.5 964.4,884.2 965.9,881.9 968.0,880.0 969.7,877.7 971.7,875.7 973.9,873.8 976.8,873.9 978.6,870.9 981.3,870.3 984.3,870.8 986.6,869.1 989.0,870.3 991.6,870.5 994.2,870.6 996.7,871.5 999.2,872.2 1001.2,873.9 1003.5,875.4 1005.6,877.0 1006.5,879.6 1009.5,880.8 1010.2,883.6 1012.2,885.4 1013.4,887.9 1015.0,890.0 1016.5,892.8 1018.8,895.3 1019.8,898.3 1020.8,901.4 1022.1,904.3 1022.7,907.6 1025.0,910.0 1025.6,912.8 1027.7,914.8 1028.3,917.6 1030.0,919.9 1031.2,922.3 1032.0,925.0 1032.0,928.0 1033.8,930.3 1034.5,933.1 1035.7,935.6 1035.6,938.4 1035.8,941.2 1034.8,943.9 1035.7,946.7 1036.6,949.4 1038.9,951.4 1039.4,954.3 1041.5,956.4 1042.0,959.3 1042.7,962.4 1045.2,964.5 1046.0,967.5 1047.5,969.9 1049.6,971.6 1052.3,972.5 1053.1,974.9 1052.9,977.5 1054.2,979.9 1053.5,982.5 1054.5,985.1 1056.3,987.1 1058.6,988.7 1059.8,991.2 1062.1,992.3 1063.8,994.1 1065.5,995.8 1067.3,997.5 1068.2,999.4 1067.3,1001.2 1067.3,1001.2 1064.4,1001.1 1062.2,1002.7 1060.0,1004.6 1057.3,1005.0 1059.8,1006.2 1062.7,1006.7 1064.8,1008.7 1063.9,1011.7 1062.1,1014.2 1059.8,1016.2 1057.0,1014.6 1053.6,1014.6 1051.0,1012.5 1048.4,1012.7 1046.2,1010.6 1043.6,1011.2 1042.4,1013.4 1040.6,1015.0 1038.4,1016.4 1037.3,1018.7 1035.2,1020.7 1032.2,1021.0 1030.2,1023.3 1027.7,1024.4 1024.8,1024.9 1023.4,1027.2 1024.1,1030.2 1022.3,1032.4 1019.7,1033.8 1018.2,1036.4 1015.6,1037.8 1013.6,1039.9 1012.1,1041.8 1010.9,1044.0 1008.1,1044.9 1007.3,1047.4 1004.9,1045.6 1002.4,1043.9 999.8,1042.4 996.6,1042.2 994.1,1044.4 991.1,1044.9 990.6,1047.8 988.1,1049.6 987.4,1052.4 985.0,1053.6 984.3,1056.2 982.1,1057.5 981.1,1059.9 980.7,1063.0 979.3,1065.7 978.6,1068.7 976.0,1069.3 973.4,1069.8 971.1,1071.1 970.0,1072.8 969.9,1074.9 972.0,1077.2 973.6,1079.9 974.0,1082.8 975.5,1085.5 974.9,1088.6 977.0,1090.2 978.7,1092.3 980.9,1093.9 982.4,1096.1 983.2,1098.8 985.0,1100.8 987.4,1102.4 986.2,1104.9 985.2,1107.5 984.6,1110.4 982.4,1112.4 981.2,1114.8 981.0,1117.4 979.7,1119.7 979.9,1122.4 981.1,1125.2 983.2,1127.4 984.9,1129.9 983.8,1132.7 982.0,1135.1 979.9,1137.3 977.4,1139.1 975.1,1141.4 972.2,1142.7 969.9,1144.8 966.7,1144.7 964.2,1147.1 961.1,1147.3 961.1,1147.3 960.6,1144.1 959.4,1141.2 957.4,1138.6 956.9,1135.4 955.6,1132.5 953.6,1129.9 951.7,1131.7 949.7,1133.4 947.4,1134.8 945.0,1134.0 942.3,1134.1 939.7,1134.0 937.4,1132.4 934.9,1131.6 932.5,1130.9 929.7,1131.2 927.4,1129.9 924.5,1128.8 923.5,1125.6 921.4,1123.7 918.7,1122.4 917.9,1119.9 917.9,1117.3 917.0,1114.9 916.2,1112.4 913.7,1112.2 911.2,1111.5 908.7,1111.1 905.4,1110.6 902.7,1109.1 899.9,1107.4 898.6,1105.1 898.9,1102.3 899.0,1099.7 897.4,1097.4 894.8,1097.6 892.4,1096.6 889.8,1097.5 887.4,1096.1 884.9,1095.3 884.0,1092.6 882.0,1091.2 879.9,1089.9 877.4,1089.6 874.9,1089.9 872.4,1090.3 870.0,1091.1 867.6,1089.9 865.0,1089.2 862.4,1088.5 860.0,1087.4 857.9,1085.3 855.2,1083.8 853.7,1081.1 851.1,1080.5 848.6,1079.8 846.2,1078.6 843.1,1079.4 840.5,1081.3 837.5,1082.4 834.8,1084.1 833.6,1087.2 830.6,1088.6 828.7,1091.1 826.2,1093.2 823.2,1094.4 820.0,1095.0 816.9,1095.2 814.0,1096.7 810.9,1096.4 807.7,1095.9 804.8,1097.4 801.9,1097.3 799.8,1099.4 797.5,1100.6 794.8,1101.1 792.3,1102.4 790.1,1104.2 787.3,1104.9 784.9,1103.4 782.1,1102.8 779.8,1101.1 777.4,1102.1 774.7,1101.6 772.3,1102.4 769.7,1101.9 768.3,1099.2 765.5,1099.1 763.6,1097.4 763.6,1097.4 763.5,1094.9 764.2,1092.4 763.6,1089.9 763.4,1087.0 762.3,1084.2 762.3,1081.2 764.4,1079.5 765.0,1076.9 766.0,1074.6 767.3,1072.4 765.2,1070.7 764.0,1068.2 761.1,1067.4 759.8,1064.9 757.6,1063.1 754.5,1063.0 752.4,1060.9 749.8,1059.9 747.4,1058.6 744.6,1058.5 742.4,1056.8 739.8,1056.2 737.2,1054.8 735.4,1052.1 732.1,1051.8 729.8,1049.9 729.7,1047.1 728.4,1044.7 726.3,1042.6 726.0,1039.9 724.9,1037.4 725.2,1034.3 725.1,1031.2 725.5,1028.1 726.1,1025.0 726.4,1021.9 725.6,1018.8 727.1,1015.6 726.1,1012.5 727.0,1010.2 729.3,1008.8 729.8,1006.2 732.4,1005.9 734.7,1007.5 737.3,1007.5 739.7,1008.9 741.8,1010.5 743.6,1012.5 744.8,1015.0 747.1,1016.1 749.2,1017.5 751.6,1018.4 753.6,1020.0 755.6,1018.3 757.4,1016.2 759.8,1015.0 762.4,1014.5 765.0,1014.1 767.2,1012.5 769.7,1011.5 772.3,1011.2 773.5,1008.4 774.9,1005.7 777.3,1003.7 779.6,1005.0 782.5,1004.4 784.5,1006.9 787.4,1006.5 789.8,1007.5 789.6,1005.0 788.0,1002.7 788.5,1000.0 788.3,996.7 789.5,993.7 789.6,990.5 791.0,987.5 790.0,984.6 788.0,982.3 786.0,980.0 785.0,977.4 784.1,974.8 783.9,972.0 782.7,969.2 780.2,967.5 778.2,965.4 776.6,962.9 774.4,960.9 774.8,958.0 775.7,955.3 777.6,953.0 776.2,950.2 775.1,947.3 772.8,945.1 770.4,943.7 767.7,942.7 765.1,941.7 762.7,940.3 760.1,939.3 757.3,938.7 755.0,937.1 752.8,935.2 751.0,933.0" fill="#aaebb0"/>
<polygon points="1067.3,1001.2 1069.6,1003.4 1072.3,1005.0 1072.4,1008.1 1073.9,1010.8 1074.8,1013.7 1077.8,1014.4 1079.9,1016.6 1081.8,1019.1 1084.8,1019.9 1084.2,1022.7 1081.5,1024.5 1080.5,1027.1 1079.8,1029.9 1080.4,1033.0 1080.7,1036.1 1080.2,1039.3 1081.0,1042.4 1078.8,1044.4 1076.0,1045.8 1073.9,1047.9 1071.4,1049.7 1069.8,1052.4 1070.6,1055.4 1073.0,1057.3 1074.5,1059.9 1076.0,1062.4 1075.3,1065.0 1077.1,1067.3 1076.7,1069.9 1077.3,1072.4 1078.8,1075.2 1080.2,1078.0 1081.0,1081.1 1078.3,1081.6 1075.6,1082.8 1072.9,1083.2 1069.9,1082.1 1067.3,1083.6 1064.6,1084.4 1062.0,1085.3 1059.2,1085.0 1056.5,1085.5 1053.7,1085.7 1051.0,1086.1 1050.2,1083.7 1049.8,1081.1 1047.0,1082.1 1045.7,1085.1 1042.5,1085.7 1041.2,1088.6 1038.6,1089.9 1037.4,1087.7 1035.8,1085.9 1033.2,1084.8 1032.3,1082.4 1030.0,1080.4 1026.8,1079.8 1024.8,1077.4 1022.3,1078.0 1019.8,1078.3 1017.3,1078.5 1014.8,1078.6 1012.7,1080.9 1009.8,1082.0 1007.3,1083.6 1005.0,1085.5 1002.8,1087.4 1001.8,1090.3 999.8,1092.4 997.4,1094.5 996.1,1097.4 998.7,1099.3 1002.0,1098.6 1004.8,1099.9 1007.2,1100.9 1010.1,1100.4 1012.4,1101.7 1014.6,1103.5 1017.3,1103.6 1019.5,1105.5 1022.2,1105.7 1024.8,1106.4 1027.3,1107.4 1028.1,1109.9 1029.7,1111.9 1030.4,1114.5 1031.6,1116.8 1033.6,1118.6 1033.2,1121.6 1032.4,1124.5 1030.0,1126.8 1029.8,1129.9 1027.1,1131.7 1025.2,1134.2 1024.7,1137.7 1022.3,1139.8 1020.7,1141.7 1018.1,1142.4 1017.1,1145.1 1014.8,1146.1 1012.5,1147.6 1009.7,1147.3 1007.3,1148.6 1005.3,1149.6 1003.4,1150.8 1001.1,1151.1 1002.4,1153.9 1003.5,1156.7 1003.6,1159.8 1004.6,1162.3 1006.4,1164.4 1006.5,1167.3 1007.3,1169.8 1007.5,1172.4 1006.6,1174.9 1007.4,1177.5 1007.0,1180.0 1007.5,1182.7 1005.0,1184.8 1005.1,1187.4 1005.0,1190.0 1005.7,1192.7 1006.6,1195.4 1008.5,1197.5 1010.5,1198.2 1012.8,1197.7 1014.8,1198.7 1016.0,1200.7 1016.5,1202.9 1017.3,1205.0 1015.6,1207.5 1013.8,1209.9 1011.0,1211.2 1012.8,1213.2 1015.3,1214.4 1017.3,1216.2 1015.7,1218.5 1013.1,1219.6 1011.0,1221.2 1012.8,1223.3 1014.6,1225.2 1017.3,1226.2 1014.6,1227.1 1012.3,1228.7 1009.8,1230.0 1007.4,1228.6 1004.8,1229.6 1002.2,1229.5 999.8,1228.7 997.2,1227.6 994.7,1226.4 992.3,1225.0 991.6,1227.8 989.3,1229.6 988.0,1232.0 987.8,1234.7 985.7,1236.4 984.8,1238.7 983.3,1240.9 980.6,1242.2 979.8,1244.9 978.0,1247.1 976.5,1249.6 974.3,1251.4 972.3,1253.4 969.8,1254.9 967.6,1257.2 965.3,1259.3 962.2,1260.4 959.8,1262.4 957.3,1263.1 955.6,1265.1 953.4,1266.3 951.1,1267.4 951.1,1267.4 952.6,1265.1 952.2,1262.3 952.8,1259.8 954.0,1257.4 954.8,1254.9 956.5,1252.5 958.2,1250.0 959.4,1247.3 961.1,1244.9 961.9,1241.9 963.1,1239.1 964.6,1236.4 966.1,1233.7 965.1,1231.2 965.1,1228.3 963.7,1226.0 962.3,1223.7 962.0,1220.7 960.2,1218.2 960.4,1215.0 958.6,1212.5 958.8,1209.4 958.3,1206.2 959.2,1203.1 959.8,1200.0 959.1,1197.5 958.2,1195.1 957.2,1192.7 957.3,1190.0 956.0,1187.5 955.8,1184.6 954.3,1182.2 952.5,1180.0 950.9,1177.7 950.4,1175.0 949.5,1172.4 948.6,1169.8 947.6,1167.3 946.3,1165.0 945.3,1162.5 944.9,1159.8 946.3,1157.7 948.9,1157.0 950.9,1155.6 952.4,1153.6 955.1,1152.7 956.7,1150.3 958.8,1148.8 961.1,1147.3 961.1,1147.3 964.2,1147.1 966.7,1144.7 969.9,1144.8 972.2,1142.7 975.1,1141.4 977.4,1139.1 979.9,1137.3 982.0,1135.1 983.8,1132.7 984.9,1129.9 983.2,1127.4 981.1,1125.2 979.9,1122.4 979.7,1119.7 981.0,1117.4 981.2,1114.8 982.4,1112.4 984.6,1110.4 985.2,1107.5 986.2,1104.9 987.4,1102.4 985.0,1100.8 983.2,1098.8 982.4,1096.1 980.9,1093.9 978.7,1092.3 977.0,1090.2 974.9,1088.6 975.5,1085.5 974.0,1082.8 973.6,1079.9 972.0,1077.2 969.9,1074.9 970.0,1072.8 971.1,1071.1 973.4,1069.8 976.0,1069.3 978.6,1068.7 979.3,1065.7 980.7,1063.0 981.1,1059.9 982.1,1057.5 984.3,1056.2 985.0,1053.6 987.4,1052.4 988.1,1049.6 990.6,1047.8 991.1,1044.9 994.1,1044.4 996.6,1042.2 999.8,1042.4 1002.4,1043.9 1004.9,1045.6 1007.3,1047.4 1008.1,1044.9 1010.9,1044.0 1012.1,1041.8 1013.6,1039.9 1015.6,1037.8 1018.2,1036.4 1019.7,1033.8 1022.3,1032.4 1024.1,1030.2 1023.4,1027.2 1024.8,1024.9 1027.7,1024.4 1030.2,1023.3 1032.2,1021.0 1035.2,1020.7 1037.3,1018.7 1038.4,1016.4 1040.6,1015.0 1042.4,1013.4 1043.6,1011.2 1046.2,1010.6 1048.4,1012.7 1051.0,1012.5 1053.6,1014.6 1057.0,1014.6 1059.8,1016.2 1062.1,1014.2 1063.9,1011.7 1064.8,1008.7 1062.7,1006.7 1059.8,1006.2 1057.3,1005.0 1060.0,1004.6 1062.2,1002.7 1064.4,1001.1 1067.3,1001.2" fill="#2a9484"/>
<polygon points="951.1,1267.4 951.9,1269.9 951.1,1272.4 951.1,1274.9 950.8,1277.5 951.2,1280.0 952.2,1282.4 952.3,1284.9 953.4,1287.8 955.0,1290.3 957.3,1292.4 957.6,1295.0 959.0,1297.3 959.3,1299.9 959.8,1302.4 956.9,1301.4 955.3,1298.3 952.3,1297.4 949.8,1296.3 947.4,1295.3 944.8,1294.7 942.3,1293.6 939.5,1292.4 936.6,1291.8 933.6,1292.4 930.9,1294.1 928.0,1294.9 924.8,1294.9 922.0,1295.1 919.5,1296.1 917.0,1296.9 914.8,1298.6 911.9,1298.0 909.0,1298.1 906.1,1297.4 903.5,1297.8 901.5,1299.2 899.9,1301.1 898.1,1302.8 896.8,1305.1 894.8,1306.4 892.4,1307.4 890.8,1310.1 891.7,1313.5 889.9,1316.1 887.6,1316.3 886.1,1318.7 883.6,1318.6 881.6,1316.2 879.9,1313.6 877.4,1311.8 874.9,1309.9 872.0,1310.9 869.0,1311.0 866.0,1311.5 862.9,1311.4 859.9,1311.1 857.3,1311.5 855.2,1313.6 852.5,1313.7 849.8,1314.0 847.4,1314.9 844.3,1314.2 841.1,1313.9 837.9,1313.8 834.9,1312.4 832.0,1313.4 828.9,1313.5 826.2,1314.9 826.2,1314.9 824.3,1313.0 822.4,1311.1 822.9,1308.2 822.1,1305.3 822.4,1302.4 820.7,1300.2 821.2,1297.2 819.1,1295.1 818.7,1292.4 817.5,1289.6 815.3,1287.5 813.7,1284.9 815.3,1282.6 816.6,1280.1 817.4,1277.4 818.6,1274.4 817.9,1271.1 818.2,1268.0 818.7,1264.9 817.8,1262.0 816.4,1259.4 813.6,1257.6 812.4,1254.9 810.4,1252.4 806.7,1252.0 805.0,1249.1 802.4,1247.4 800.3,1246.0 797.8,1245.3 795.6,1244.2 793.7,1242.4 792.6,1240.3 790.0,1239.8 788.7,1238.0 785.9,1239.1 783.1,1240.2 780.4,1241.6 777.5,1242.4 774.8,1242.3 772.3,1243.0 770.0,1244.1 767.5,1244.7 765.0,1245.5 762.3,1245.6 760.1,1247.4 757.2,1247.1 755.0,1248.7 752.3,1248.8 750.0,1247.5 747.4,1247.2 745.0,1246.2 742.6,1248.1 739.6,1249.2 737.3,1251.2 734.6,1252.0 731.9,1252.8 729.8,1254.9 728.9,1252.3 727.0,1250.3 724.8,1248.7 721.9,1248.1 718.8,1248.6 716.0,1247.5 713.2,1246.3 710.2,1246.9 707.3,1246.2 705.6,1244.1 703.6,1242.3 702.3,1240.0 700.2,1242.0 697.4,1242.7 694.8,1243.7 693.9,1246.1 690.8,1246.4 689.8,1248.7 687.4,1250.5 684.5,1251.6 682.3,1253.7 680.7,1256.0 680.7,1259.1 678.6,1261.2 676.0,1262.1 674.4,1264.7 672.4,1266.4 669.8,1267.4 667.7,1269.5 664.8,1270.4 661.9,1271.3 659.9,1273.7 657.4,1273.4 654.9,1273.0 652.4,1272.4 651.1,1269.4 648.6,1267.4 648.6,1267.4 650.1,1265.2 652.1,1263.4 654.0,1261.6 656.1,1259.9 656.2,1257.1 658.6,1255.2 659.8,1252.8 659.9,1250.0 660.7,1247.5 662.4,1245.3 662.4,1242.5 661.9,1239.6 659.9,1237.5 661.9,1236.2 663.4,1234.4 664.8,1232.5 667.9,1232.1 670.6,1230.5 673.6,1230.0 672.3,1228.1 671.4,1226.0 671.1,1223.7 668.1,1222.8 665.4,1221.0 662.4,1220.0 660.1,1217.9 658.7,1215.3 657.4,1212.5 655.3,1210.3 654.2,1207.4 652.4,1205.0 651.4,1202.6 649.0,1201.4 647.4,1199.5 645.4,1200.0 643.6,1201.2 641.5,1202.3 639.9,1204.5 637.4,1205.0 634.4,1203.7 631.1,1204.9 628.0,1204.6 624.9,1203.7 621.7,1202.7 619.9,1200.0 620.1,1197.3 619.4,1194.8 618.7,1192.3 617.2,1190.0 617.2,1187.1 614.9,1185.1 614.7,1182.3 613.7,1179.8 615.3,1177.6 615.5,1174.9 614.7,1172.1 616.2,1169.8 618.7,1168.8 621.3,1168.3 624.0,1168.0 626.8,1167.2 629.7,1167.1 632.4,1166.1 632.4,1166.1 633.5,1163.0 636.2,1161.1 636.9,1158.2 636.4,1155.2 637.4,1152.4 635.7,1150.0 634.0,1147.7 632.1,1145.5 629.9,1143.6 630.6,1140.6 630.1,1137.7 628.7,1134.9 629.0,1132.3 629.1,1129.7 630.5,1127.4 631.2,1124.9 633.0,1123.3 633.8,1120.7 635.7,1119.1 637.4,1117.4 640.0,1116.7 642.3,1115.2 644.6,1113.7 647.4,1113.6 649.9,1114.1 652.3,1115.2 655.1,1114.9 657.4,1116.1 659.9,1116.4 662.5,1116.1 664.8,1118.1 667.4,1117.4 668.8,1119.6 671.3,1120.4 672.4,1122.8 674.9,1123.6 675.9,1126.5 675.5,1129.5 676.1,1132.4 678.9,1131.3 682.1,1131.5 684.4,1129.1 687.4,1128.6 689.6,1127.0 692.8,1127.8 695.1,1126.4 697.4,1124.9 699.6,1126.0 701.0,1128.0 702.4,1129.9 704.8,1131.2 707.2,1132.2 709.9,1132.4 712.6,1132.4 714.9,1131.1 717.2,1129.8 719.9,1129.9 721.4,1127.3 722.9,1124.7 724.9,1122.4 727.7,1122.2 729.6,1119.7 732.2,1119.2 734.8,1118.6 735.0,1116.3 736.7,1114.6 737.3,1112.4 739.9,1110.9 742.8,1109.8 744.8,1107.4 747.1,1105.7 749.8,1104.8 752.6,1104.3 754.8,1102.4 756.5,1100.3 759.6,1100.5 761.9,1099.5 763.6,1097.4 763.6,1097.4 765.5,1099.1 768.3,1099.2 769.7,1101.9 772.3,1102.4 774.7,1101.6 777.4,1102.1 779.8,1101.1 782.1,1102.8 784.9,1103.4 787.3,1104.9 790.1,1104.2 792.3,1102.4 794.8,1101.1 797.5,1100.6 799.8,1099.4 801.9,1097.3 804.8,1097.4 807.7,1095.9 810.9,1096.4 814.0,1096.7 816.9,1095.2 820.0,1095.0 823.2,1094.4 826.2,1093.2 828.7,1091.1 830.6,1088.6 833.6,1087.2 834.8,1084.1 837.5,1082.4 840.5,1081.3 843.1,1079.4 846.2,1078.6 848.6,1079.8 851.1,1080.5 853.7,1081.1 855.2,1083.8 857.9,1085.3 860.0,1087.4 862.4,1088.5 865.0,1089.2 867.6,1089.9 870.0,1091.1 872.4,1090.3 874.9,1089.9 877.4,1089.6 879.9,1089.9 882.0,1091.2 884.0,1092.6 884.9,1095.3 887.4,1096.1 889.8,1097.5 892.4,1096.6 894.8,1097.6 897.4,1097.4 899.0,1099.7 898.9,1102.3 898.6,1105.1 899.9,1107.4 902.7,1109.1 905.4,1110.6 908.7,1111.1 911.2,1111.5 913.7,1112.2 916.2,1112.4 917.0,1114.9 917.9,1117.3 917.9,1119.9 918.7,1122.4 921.4,1123.7 923.5,1125.6 924.5,1128.8 927.4,1129.9 929.7,1131.2 932.5,1130.9 934.9,1131.6 937.4,1132.4 939.7,1134.0 942.3,1134.1 945.0,1134.0 947.4,1134.8 949.7,1133.4 951.7,1131.7 953.6,1129.9 955.6,1132.5 956.9,1135.4 957.4,1138.6 959.4,1141.2 960.6,1144.1 961.1,1147.3 961.1,1147.3 958.8,1148.8 956.7,1150.3 955.1,1152.7 952.4,1153.6 950.9,1155.6 948.9,1157.0 946.3,1157.7 944.9,1159.8 945.3,1162.5 946.3,1165.0 947.6,1167.3 948.6,1169.8 949.5,1172.4 950.4,1175.0 950.9,1177.7 952.5,1180.0 954.3,1182.2 955.8,1184.6 956.0,1187.5 957.3,1190.0 957.2,1192.7 958.2,1195.1 959.1,1197.5 959.8,1200.0 959.2,1203.1 958.3,1206.2 958.8,1209.4 958.6,1212.5 960.4,1215.0 960.2,1218.2 962.0,1220.7 962.3,1223.7 963.7,1226.0 965.1,1228.3 965.1,1231.2 966.1,1233.7 964.6,1236.4 963.1,1239.1 961.9,1241.9 961.1,1244.9 959.4,1247.3 958.2,1250.0 956.5,1252.5 954.8,1254.9 954.0,1257.4 952.8,1259.8 952.2,1262.3 952.6,1265.1 951.1,1267.4" fill="#9fdfa8"/>
<polygon points="826.2,1314.9 824.4,1316.7 821.9,1317.2 819.9,1318.6 817.8,1320.4 815.8,1322.2 814.9,1324.9 812.8,1322.6 811.2,1319.9 809.5,1322.1 806.5,1321.9 804.6,1323.6 802.4,1324.9 800.9,1327.2 799.5,1329.7 798.7,1332.4 798.7,1335.1 796.6,1337.2 797.8,1340.1 796.2,1342.4 794.5,1344.5 792.2,1345.9 790.0,1347.4 787.7,1348.5 785.4,1349.5 782.9,1350.2 781.2,1352.3 779.2,1353.9 779.6,1357.0 777.5,1358.6 774.9,1360.6 771.5,1360.9 768.7,1362.3 767.0,1364.4 765.0,1366.1 763.7,1368.9 763.0,1371.7 763.2,1374.8 762.3,1371.7 760.7,1369.0 759.5,1366.1 756.3,1366.5 753.2,1366.2 750.0,1366.0 747.4,1365.4 744.8,1364.9 742.6,1363.0 739.6,1363.8 737.3,1362.4 734.3,1362.0 731.3,1363.2 728.2,1362.4 725.2,1362.4 722.3,1363.6 719.2,1363.8 716.4,1365.1 713.4,1365.6 710.2,1365.0 707.3,1366.1 705.0,1364.7 703.3,1362.6 700.9,1361.3 698.9,1359.6 697.3,1357.4 694.4,1359.1 691.0,1358.5 688.1,1360.1 684.8,1359.9 682.1,1359.4 679.5,1358.4 676.9,1357.6 674.8,1355.8 671.9,1355.6 669.8,1353.6 666.9,1354.3 663.9,1354.8 660.8,1354.6 657.9,1355.9 654.9,1356.1 651.9,1355.8 648.7,1356.2 646.0,1353.9 643.0,1353.7 639.9,1353.6 637.1,1352.1 633.9,1351.9 630.8,1351.6 628.1,1349.7 624.9,1349.9 621.8,1349.3 618.6,1349.6 615.5,1349.4 612.4,1348.6 609.6,1347.1 606.6,1346.4 603.4,1346.5 600.5,1345.4 597.4,1344.9 595.2,1346.7 592.7,1348.0 589.9,1348.6 586.8,1349.5 583.4,1348.8 580.5,1350.3 577.4,1351.1 574.5,1350.5 571.8,1349.1 568.8,1348.5 565.8,1348.0 563.4,1345.8 560.0,1346.7 557.4,1344.9 554.6,1343.9 551.6,1344.7 548.7,1344.3 545.9,1343.3 542.9,1344.1 540.0,1343.6 537.0,1344.2 534.1,1344.1 531.3,1342.0 528.4,1342.0 525.5,1341.6 522.5,1342.4 519.8,1341.5 517.0,1340.8 514.8,1339.1 512.7,1337.0 510.0,1336.1 507.2,1335.2 504.2,1335.8 501.5,1334.5 501.5,1334.5 502.5,1331.5 503.4,1329.1 503.9,1326.6 502.5,1323.9 503.7,1321.5 505.8,1320.1 507.4,1318.0 509.0,1316.1 511.8,1316.0 514.6,1316.1 517.1,1314.5 519.9,1314.8 522.5,1313.7 525.2,1313.2 527.6,1311.9 530.3,1311.4 533.0,1311.2 535.5,1309.9 537.1,1307.8 538.6,1305.5 536.5,1303.6 534.0,1302.3 532.1,1299.9 529.5,1298.8 527.4,1297.0 524.5,1296.2 524.2,1293.6 522.2,1291.5 522.2,1288.8 520.8,1286.6 520.5,1284.0 518.3,1282.0 515.7,1280.5 513.3,1278.7 511.5,1276.2 509.9,1274.0 508.7,1271.5 506.2,1269.9 505.0,1267.4 505.1,1264.4 507.2,1262.2 508.0,1259.5 505.7,1257.8 503.1,1256.5 501.5,1254.0 500.4,1251.4 498.3,1249.6 496.1,1247.9 494.0,1246.2 493.0,1243.5 493.0,1243.5 495.1,1242.4 497.0,1241.0 498.9,1239.6 501.2,1240.0 502.0,1242.4 502.9,1244.7 505.0,1246.2 508.1,1246.5 511.3,1246.3 514.4,1246.9 517.5,1247.5 520.7,1247.1 523.8,1247.8 526.9,1247.6 530.0,1248.7 531.6,1250.9 533.2,1253.0 536.2,1253.7 537.5,1256.2 540.5,1256.1 542.8,1258.5 545.7,1258.6 548.6,1258.7 551.2,1259.9 554.4,1259.6 556.9,1257.7 559.4,1255.7 562.4,1254.9 564.9,1254.3 567.5,1254.0 569.8,1252.6 572.4,1252.4 574.1,1250.0 576.3,1247.9 577.4,1245.0 580.2,1245.4 582.5,1244.3 584.9,1243.3 587.4,1242.5 589.5,1244.4 592.3,1244.6 594.7,1245.8 597.4,1246.2 600.5,1246.1 603.6,1246.1 606.8,1246.3 609.9,1246.2 613.1,1245.8 616.2,1246.4 619.3,1247.4 622.4,1247.5 625.2,1248.3 628.3,1248.3 630.9,1250.0 633.6,1251.2 634.0,1254.2 636.1,1256.2 637.4,1258.7 639.7,1260.2 642.5,1260.1 644.9,1261.2 645.8,1263.5 648.3,1264.8 648.6,1267.4 648.6,1267.4 651.1,1269.4 652.4,1272.4 654.9,1273.0 657.4,1273.4 659.9,1273.7 661.9,1271.3 664.8,1270.4 667.7,1269.5 669.8,1267.4 672.4,1266.4 674.4,1264.7 676.0,1262.1 678.6,1261.2 680.7,1259.1 680.7,1256.0 682.3,1253.7 684.5,1251.6 687.4,1250.5 689.8,1248.7 690.8,1246.4 693.9,1246.1 694.8,1243.7 697.4,1242.7 700.2,1242.0 702.3,1240.0 703.6,1242.3 705.6,1244.1 707.3,1246.2 710.2,1246.9 713.2,1246.3 716.0,1247.5 718.8,1248.6 721.9,1248.1 724.8,1248.7 727.0,1250.3 728.9,1252.3 729.8,1254.9 731.9,1252.8 734.6,1252.0 737.3,1251.2 739.6,1249.2 742.6,1248.1 745.0,1246.2 747.4,1247.2 750.0,1247.5 752.3,1248.8 755.0,1248.7 757.2,1247.1 760.1,1247.4 762.3,1245.6 765.0,1245.5 767.5,1244.7 770.0,1244.1 772.3,1243.0 774.8,1242.3 777.5,1242.4 780.4,1241.6 783.1,1240.2 785.9,1239.1 788.7,1238.0 790.0,1239.8 792.6,1240.3 793.7,1242.4 795.6,1244.2 797.8,1245.3 800.3,1246.0 802.4,1247.4 805.0,1249.1 806.7,1252.0 810.4,1252.4 812.4,1254.9 813.6,1257.6 816.4,1259.4 817.8,1262.0 818.7,1264.9 818.2,1268.0 817.9,1271.1 818.6,1274.4 817.4,1277.4 816.6,1280.1 815.3,1282.6 813.7,1284.9 815.3,1287.5 817.5,1289.6 818.7,1292.4 819.1,1295.1 821.2,1297.2 820.7,1300.2 822.4,1302.4 822.1,1305.3 822.9,1308.2 822.4,1311.1 824.3,1313.0 826.2,1314.9" fill="#5bb096"/>
<polygon points="951.1,983.7 953.9,983.0 956.1,981.2 958.1,980.2 960.5,981.4 962.4,980.0 965.3,979.0 967.7,977.1 969.9,975.0 972.4,975.8 975.1,976.3 977.4,977.7 979.9,978.7 982.9,978.1 985.4,976.4 987.7,974.6 989.8,972.5 991.8,974.0 994.1,974.8 996.1,976.2 996.6,979.2 998.1,982.0 998.6,985.0 999.5,987.4 1000.0,989.9 1000.2,992.4 999.8,995.0 1002.0,996.8 1004.8,997.5 1004.5,1000.1 1003.6,1002.5 1000.7,1002.0 997.7,1001.9 994.8,1001.2 991.9,1002.5 989.4,1004.7 986.1,1005.0 984.4,1006.5 982.4,1007.5 979.9,1007.5 977.5,1006.4 975.0,1005.8 972.4,1006.2 969.6,1006.0 967.2,1007.3 964.9,1008.7 962.4,1007.8 959.9,1009.7 957.4,1008.7 956.8,1005.9 954.9,1003.7 954.7,1001.4 952.4,999.9 952.4,997.5 951.1,995.2 951.3,992.5 951.1,990.0 951.6,986.9" fill="#0b7077"/>
</g>
<path d="M851.0,758.8000000000001 L957.0,758.8000000000001 A8.8,8.8 0 0 1 965.8,767.6 L965.8,803.0 A8.8,8.8 0 0 1 957.0,811.8 L895,811.8 L852,933 L863.5,811.8 L851.0,811.8 A8.8,8.8 0 0 1 842.2,803.0 L842.2,767.6 A8.8,8.8 0 0 1 851.0,758.8000000000001 Z" fill="#8b8be2" stroke="#fff" stroke-width="4.4" stroke-linejoin="round"/>
<text x="874.2" y="798.1999999999999" font-size="31" font-weight="bold" fill="#fff" textLength="59" lengthAdjust="spacingAndGlyphs" filter="url(#sh)" stroke="#fff" stroke-width="0.5" stroke-linejoin="round"  xml:space="preserve">+4,0</text>
<path d="M689.0,829.2 L794.7,829.2 A8.8,8.8 0 0 1 803.5,838.0 L803.5,873.0 A8.8,8.8 0 0 1 794.7,881.8 L728.3,881.8 L689,1003.5 L699.7,881.8 L689.0,881.8 A8.8,8.8 0 0 1 680.2,873.0 L680.2,838.0 A8.8,8.8 0 0 1 689.0,829.2 Z" fill="#8b8be2" stroke="#fff" stroke-width="4.4" stroke-linejoin="round"/>
<text x="712.0500000000001" y="868.4" font-size="31" font-weight="bold" fill="#fff" textLength="59" lengthAdjust="spacingAndGlyphs" filter="url(#sh)" stroke="#fff" stroke-width="0.5" stroke-linejoin="round"  xml:space="preserve">+2,9</text>
<path d="M975.9,879.9000000000001 L1080.7,879.9000000000001 A8.8,8.8 0 0 1 1089.5,888.7 L1089.5,924.0 A8.8,8.8 0 0 1 1080.7,932.8 L1020,932.8 L973.5,986 L981.5,932.8 L975.9,932.8 A8.8,8.8 0 0 1 967.1,924.0 L967.1,888.7 A8.8,8.8 0 0 1 975.9,879.9000000000001 Z" fill="#8b8be2" stroke="#fff" stroke-width="4.4" stroke-linejoin="round"/>
<text x="999.75" y="919.25" font-size="31" font-weight="bold" fill="#fff" textLength="56.5" lengthAdjust="spacingAndGlyphs" filter="url(#sh)" stroke="#fff" stroke-width="0.5" stroke-linejoin="round"  xml:space="preserve">+9,1</text>
<path d="M364.1,1042.4 L470.0,1042.4 A8.8,8.8 0 0 1 478.8,1051.2 L478.8,1085.8 A8.8,8.8 0 0 1 470.0,1094.6 L458.5,1094.6 L557,1192 L427,1094.6 L364.1,1094.6 A8.8,8.8 0 0 1 355.3,1085.8 L355.3,1051.2 A8.8,8.8 0 0 1 364.1,1042.4 Z" fill="#8b8be2" stroke="#fff" stroke-width="4.4" stroke-linejoin="round"/>
<text x="387.25" y="1081.4" font-size="31" font-weight="bold" fill="#fff" textLength="59" lengthAdjust="spacingAndGlyphs" filter="url(#sh)" stroke="#fff" stroke-width="0.5" stroke-linejoin="round"  xml:space="preserve">+5,9</text>
<path d="M778.9,1146.0 L885.1,1146.0 A8.8,8.8 0 0 1 893.9,1154.8 L893.9,1190.1 A8.8,8.8 0 0 1 885.1,1198.8999999999999 L778.9,1198.8999999999999 A8.8,8.8 0 0 1 770.1,1190.1 L770.1,1154.8 A8.8,8.8 0 0 1 778.9,1146.0 Z" fill="#8b8be2" stroke="#fff" stroke-width="4.4" stroke-linejoin="round"/>
<text x="802.2" y="1185.35" font-size="31" font-weight="bold" fill="#fff" textLength="59" lengthAdjust="spacingAndGlyphs" filter="url(#sh)" stroke="#fff" stroke-width="0.5" stroke-linejoin="round"  xml:space="preserve">+1,8</text>
<path d="M646.9,1282.3 L752.0,1282.3 A8.8,8.8 0 0 1 760.8,1291.1 L760.8,1326.1 A8.8,8.8 0 0 1 752.0,1334.8999999999999 L646.9,1334.8999999999999 A8.8,8.8 0 0 1 638.1,1326.1 L638.1,1291.1 A8.8,8.8 0 0 1 646.9,1282.3 Z" fill="#8b8be2" stroke="#fff" stroke-width="4.4" stroke-linejoin="round"/>
<text x="669.6500000000001" y="1321.5" font-size="31" font-weight="bold" fill="#fff" textLength="59" lengthAdjust="spacingAndGlyphs" filter="url(#sh)" stroke="#fff" stroke-width="0.5" stroke-linejoin="round"  xml:space="preserve">+4,2</text>
<path d="M79.4,1332.5 L93.5,1332.5 L123.5,1235 L122.5,1332.5 L186.7,1332.5 A8.8,8.8 0 0 1 195.5,1341.3 L195.5,1376.8 A8.8,8.8 0 0 1 186.7,1385.6 L79.4,1385.6 A8.8,8.8 0 0 1 70.60000000000001,1376.8 L70.60000000000001,1341.3 A8.8,8.8 0 0 1 79.4,1332.5 Z" fill="#8b8be2" stroke="#fff" stroke-width="4.4" stroke-linejoin="round"/>
<text x="103.25000000000001" y="1371.95" font-size="31" font-weight="bold" fill="#fff" textLength="59" lengthAdjust="spacingAndGlyphs" filter="url(#sh)" stroke="#fff" stroke-width="0.5" stroke-linejoin="round"  xml:space="preserve">+4,5</text>
<path d="M311.0,1306.4 L320.5,1306.4 L300.5,1235 L352,1306.4 L416.7,1306.4 A8.8,8.8 0 0 1 425.5,1315.2 L425.5,1349.4 A8.8,8.8 0 0 1 416.7,1358.2 L311.0,1358.2 A8.8,8.8 0 0 1 302.2,1349.4 L302.2,1315.2 A8.8,8.8 0 0 1 311.0,1306.4 Z" fill="#8b8be2" stroke="#fff" stroke-width="4.4" stroke-linejoin="round"/>
<text x="334.05" y="1345.2000000000003" font-size="31" font-weight="bold" fill="#fff" textLength="59" lengthAdjust="spacingAndGlyphs" filter="url(#sh)" stroke="#fff" stroke-width="0.5" stroke-linejoin="round"  xml:space="preserve">+2,2</text>
<path d="M976.8,1316.0 L988,1316.0 L986,1201.5 L1020.5,1316.0 L1083.2,1316.0 A8.8,8.8 0 0 1 1092.0,1324.8 L1092.0,1359.8 A8.8,8.8 0 0 1 1083.2,1368.6 L976.8,1368.6 A8.8,8.8 0 0 1 968.0,1359.8 L968.0,1324.8 A8.8,8.8 0 0 1 976.8,1316.0 Z" fill="#8b8be2" stroke="#fff" stroke-width="4.4" stroke-linejoin="round"/>
<text x="1000.2" y="1355.2" font-size="31" font-weight="bold" fill="#fff" textLength="59" lengthAdjust="spacingAndGlyphs" filter="url(#sh)" stroke="#fff" stroke-width="0.5" stroke-linejoin="round"  xml:space="preserve">+1,4</text>
<text x="281.9" y="1416.8" font-size="28" font-weight="bold" fill="#2b2b82" textLength="71" lengthAdjust="spacingAndGlyphs" stroke="#2b2b82" stroke-width="0.3" stroke-linejoin="round"  xml:space="preserve">Quelle</text>
<text x="354" y="1416.8" font-size="28" font-weight="normal" fill="#2b2b82" textLength="6" lengthAdjust="spacingAndGlyphs"  xml:space="preserve">:</text>
<text x="365" y="1416.8" font-size="28" font-weight="normal" fill="#2b2b82" textLength="186" lengthAdjust="spacingAndGlyphs" stroke="#2b2b82" stroke-width="0.2" stroke-linejoin="round"  xml:space="preserve">BRANCHENRADAR</text>
<text x="560.2" y="1416.8" font-size="28" font-weight="normal" fill="#2b2b82" textLength="291.5" lengthAdjust="spacingAndGlyphs" stroke="#2b2b82" stroke-width="0.2" stroke-linejoin="round"  xml:space="preserve">Estriche in Österreich 2018</text>
<rect x="42.9" y="1432.1" width="1051.4" height="96.3" rx="6.5" fill="#8b8be2" stroke="#fff" stroke-width="4.2"/>
<text transform="translate(118.3,1467.7) scale(0.8,1)" font-size="26.3" font-weight="bold" fill="#07071c" stroke="#07071c" stroke-width="0.8" textLength="360.7" lengthAdjust="spacing">MARKTFORSCHUNG</text>
<text x="419.4" y="1467.7" font-size="27.3" font-weight="normal" fill="#101030" textLength="598.6" lengthAdjust="spacingAndGlyphs" stroke="#101030" stroke-width="0.25" stroke-linejoin="round"  xml:space="preserve">für Baustoffe, Bauchemie, Bauelemente, Beschlags- und</text>
<text x="290" y="1503.4" font-size="27.3" font-weight="normal" fill="#101030" textLength="557.7" lengthAdjust="spacingAndGlyphs" stroke="#101030" stroke-width="0.25" stroke-linejoin="round"  xml:space="preserve">Befestigungstechnik, Fertigbau und Gebäudetechnik</text>
<text x="254.1" y="1559.4" font-size="23.3" font-weight="normal" fill="#2b337f" textLength="395.6" lengthAdjust="spacingAndGlyphs" stroke="#2b337f" stroke-width="0.25" stroke-linejoin="round"  xml:space="preserve">BRANCHENRADAR.com Marktanalyse GmbH</text>
<text x="655.3" y="1559.4" font-size="23.3" font-weight="normal" fill="#2b337f" stroke="#2b337f" stroke-width="0.25" stroke-linejoin="round"  xml:space="preserve">|</text>
<text x="665.7" y="1559.4" font-size="23.3" font-weight="normal" fill="#2b337f" textLength="227.1" lengthAdjust="spacingAndGlyphs" stroke="#2b337f" stroke-width="0.25" stroke-linejoin="round"  xml:space="preserve">www.branchenradar.com</text>
<text x="42.9" y="1635.2" font-size="31.3" font-weight="normal" fill="#0a0a0a" textLength="353" lengthAdjust="spacingAndGlyphs" stroke="#0a0a0a" stroke-width="0.25" stroke-linejoin="round"  xml:space="preserve">Rückfragen: Sabine Hengster,</text>
<text x="409.4" y="1635.2" font-size="31.3" font-weight="normal" fill="#0a0a0a" textLength="294.8" lengthAdjust="spacingAndGlyphs" stroke="#0a0a0a" stroke-width="0.25" stroke-linejoin="round"  xml:space="preserve">Tel: +43 1 470 65 10-11</text>
<text x="717.6" y="1635.2" font-size="31.3" font-weight="normal" fill="#0a0a0a" textLength="373.3" lengthAdjust="spacingAndGlyphs" stroke="#0a0a0a" stroke-width="0.25" stroke-linejoin="round"  xml:space="preserve">email: sh@branchenradar.com</text>
<text x="33.6" y="1675.4" font-size="31.3" font-weight="normal" fill="#0a0a0a" textLength="424.9" lengthAdjust="spacingAndGlyphs" stroke="#0a0a0a" stroke-width="0.25" stroke-linejoin="round"  xml:space="preserve">Copyright by BRANCHENRADAR.com</text>
<text x="474.3" y="1675.4" font-size="31.3" font-weight="normal" fill="#0a0a0a" textLength="626.7" lengthAdjust="spacingAndGlyphs" stroke="#0a0a0a" stroke-width="0.25" stroke-linejoin="round"  xml:space="preserve">Marktanalyse GmbH | Der Abdruck ist unentgeltlich.</text>
</svg></body></html>
